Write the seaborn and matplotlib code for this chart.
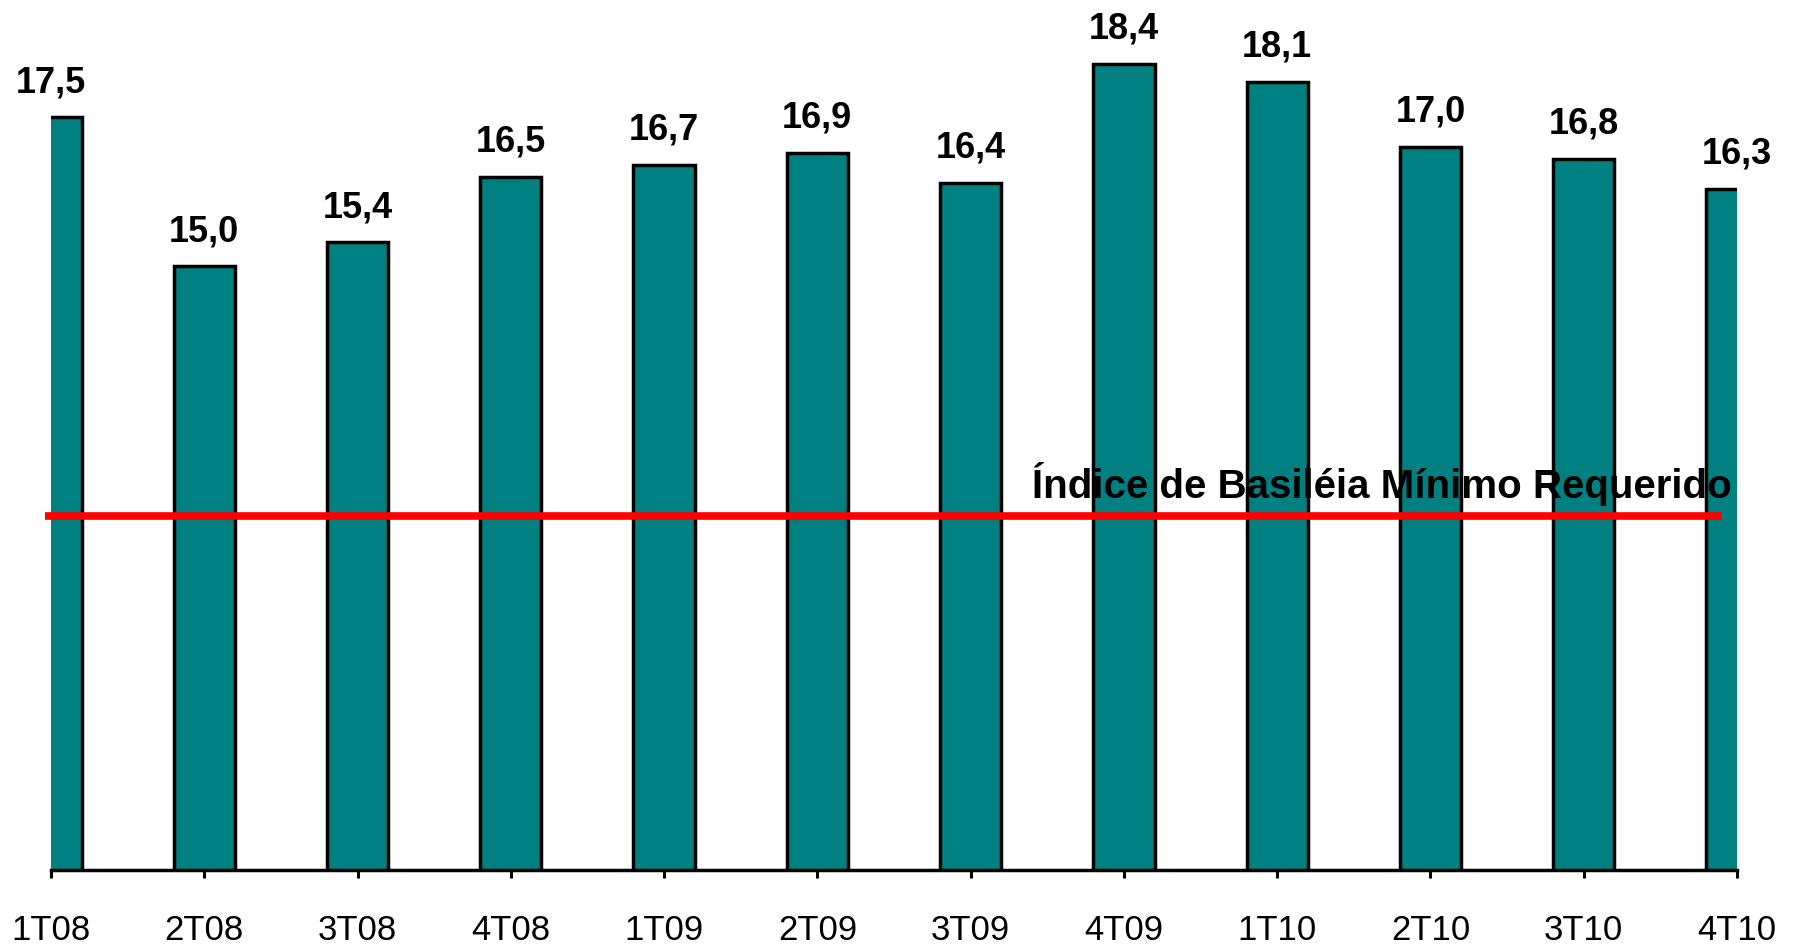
import matplotlib
matplotlib.use('Agg')
import matplotlib.pyplot as plt
import seaborn as sns

# dados: índice de Basiléia por trimestre
trimestres = ['1T08', '2T08', '3T08', '4T08', '1T09', '2T09',
              '3T09', '4T09', '1T10', '2T10', '3T10', '4T10']
indice = [17.5, 15.0, 15.4, 16.5, 16.7, 16.9, 16.4, 18.4, 18.1, 17.0, 16.8, 16.3]
rotulos = ['17,5', '15,0', '15,4', '16,5', '16,7', '16,9',
           '16,4', '18,4', '18,1', '17,0', '16,8', '16,3']
minimo_requerido = 10.8
texto_minimo = 'Índice de Basiléia Mínimo Requerido'

sns.set_style('white')
plt.rcParams['font.family'] = ['Liberation Sans', 'DejaVu Sans']
plt.rcParams['text.color'] = 'black'

fig = plt.figure(figsize=(18.04, 9.49), dpi=100)
ax = fig.add_axes([51 / 1804, 79 / 949, (1737 - 51) / 1804, 870 / 949])

sns.barplot(x=trimestres, y=indice, color='#008080', saturation=1,
            width=0.4, edgecolor='black', linewidth=2.5, ax=ax)

ax.set_xlim(0, len(trimestres) - 1)
ax.set_ylim(4.85, 19.47)

# rótulos dos valores
for i, (v, r) in enumerate(zip(indice, rotulos)):
    ax.text(i, v + 0.42, r, ha='center', va='baseline', color='black',
            fontsize=26, fontweight='bold', clip_on=False)

# linha do mínimo requerido
ax.hlines(minimo_requerido, -0.04, 10.9, color='red', linewidth=5.5,
          zorder=5, clip_on=False)
ax.text(6.4, 11.1, texto_minimo, ha='left', va='baseline', color='black',
        fontsize=29, fontweight='bold')

for s in ['left', 'right', 'top']:
    ax.spines[s].set_visible(False)
ax.spines['bottom'].set_linewidth(2.5)
ax.spines['bottom'].set_color('black')
ax.set_yticks([])
ax.tick_params(axis='x', direction='out', length=6, width=2.2, bottom=True,
               labelsize=25, pad=26, colors='black')
ax.set_xlabel('')
ax.set_ylabel('')

fig.savefig('out.png', dpi=100)
